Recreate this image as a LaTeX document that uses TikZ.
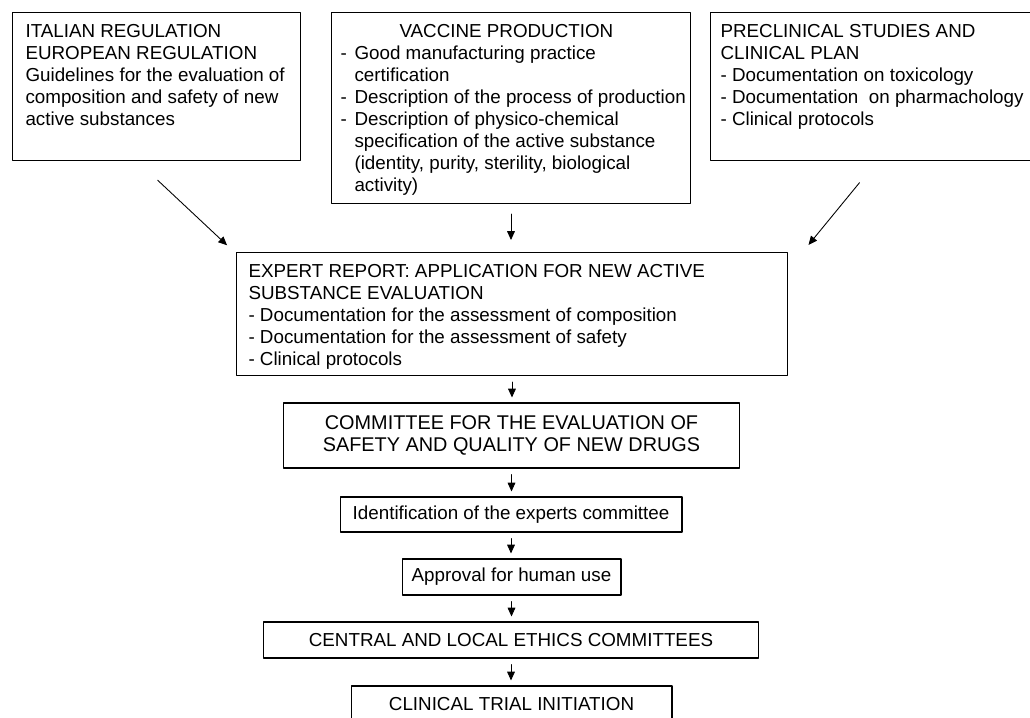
\documentclass[tikz,border=0pt]{standalone}
\usepackage{fontspec}
\setmainfont{Liberation Sans}
\usetikzlibrary{arrows.meta}
\tikzset{
  panel/.style={draw, line width=0.6pt, anchor=north west, inner sep=0pt, font=\fontsize{10.7}{12.5}\selectfont},
  stage/.style={draw, line width=0.6pt, inner sep=0pt, align=center, minimum height=0.72cm, font=\fontsize{10.7}{12.5}\selectfont},
  flow/.style={-{Triangle[length=5pt,width=4.4pt]}, line width=0.5pt, shorten <=0.12cm, shorten >=0.1cm}
}
\newcommand{\ptext}[4]{\parbox[t][#2][t]{#1}{\leftskip=#3\rule{0pt}{0.5cm}#4}}
\newcommand{\dashline}{\par\hangindent=0.28cm\hangafter=1\makebox[0.28cm][l]{-}}
\hbadness=10000
\begin{document}
\begin{tikzpicture}[line cap=round,line join=round,x=0.02cm,y=-0.02cm]
				\useasboundingbox (0,0) rectangle (1030,717);
				\clip (0,0) rectangle (1030,717);
				% sources
				\node[panel] (italian) at (12,12) {\ptext{5.76cm}{2.96cm}{0.26cm}{ITALIAN REGULATION\\
					EUROPEAN REGULATION\\
					Guidelines for the evaluation of\\
					composition and safety of new\\
					active substances}};
				\node[panel] (vaccine) at (331,12) {\ptext{7.18cm}{3.82cm}{0.18cm}{\hspace*{1.18cm}VACCINE PRODUCTION
					\dashline Good manufacturing practice\\certification
					\dashline Description of the process of production
					\dashline Description of physico-chemical\\specification of the active substance\\(identity, purity, sterility, biological\\activity)}};
				\node[panel] (preclinical) at (710,12) {\ptext{6.6cm}{2.96cm}{0.2cm}{PRECLINICAL STUDIES AND\\
					CLINICAL PLAN\\
					- Documentation on toxicology\\
					- Documentation\ \ on pharmachology\\
					- Clinical protocols}};
				% report
				\node[panel] (expert) at (236,252) {\ptext{11.02cm}{2.46cm}{0.24cm}{EXPERT REPORT: APPLICATION FOR NEW ACTIVE\\
					SUBSTANCE EVALUATION\\
					- Documentation for the assessment of composition\\
					- Documentation for the assessment of safety\\
					- Clinical protocols}};
				% chain
				\node[stage, minimum width=9.14cm, minimum height=1.3cm, font=\fontsize{11.3}{12.5}\selectfont] (committee) at (511.5,435.5) {COMMITTEE FOR THE EVALUATION OF\\SAFETY AND QUALITY OF NEW DRUGS};
				\node[stage, minimum width=6.84cm, minimum height=0.7cm] (ident) at (511,514.5) {Identification of the experts committee};
				\node[stage, minimum width=4.38cm] (approval) at (511.5,577) {Approval for human use};
				\node[stage, minimum width=9.92cm] (central) at (511,640) {CENTRAL AND LOCAL ETHICS COMMITTEES};
				\node[stage, minimum width=6.42cm] (clinical) at (511.5,704) {CLINICAL TRIAL INITIATION};
				% arrows
				\draw[flow, shorten <=0.56cm, shorten >=0.08cm] ([xshift=-11]italian.south) -- ([shift={(-6,-4)}]expert.north west);
				\draw[flow, shorten <=0.2cm, shorten >=0.24cm] (vaccine.south) -- (vaccine.south |- expert.north);
				\draw[flow, shorten <=0.56cm, shorten >=0.08cm] ([xshift=1]preclinical.south) -- ([shift={(18,-4)}]expert.north east);
				\foreach \a/\b in {expert/committee,committee/ident,ident/approval,approval/central,central/clinical}
					\draw[flow] (\a.south) -- (\a.south |- \b.north);
\end{tikzpicture}
\end{document}
